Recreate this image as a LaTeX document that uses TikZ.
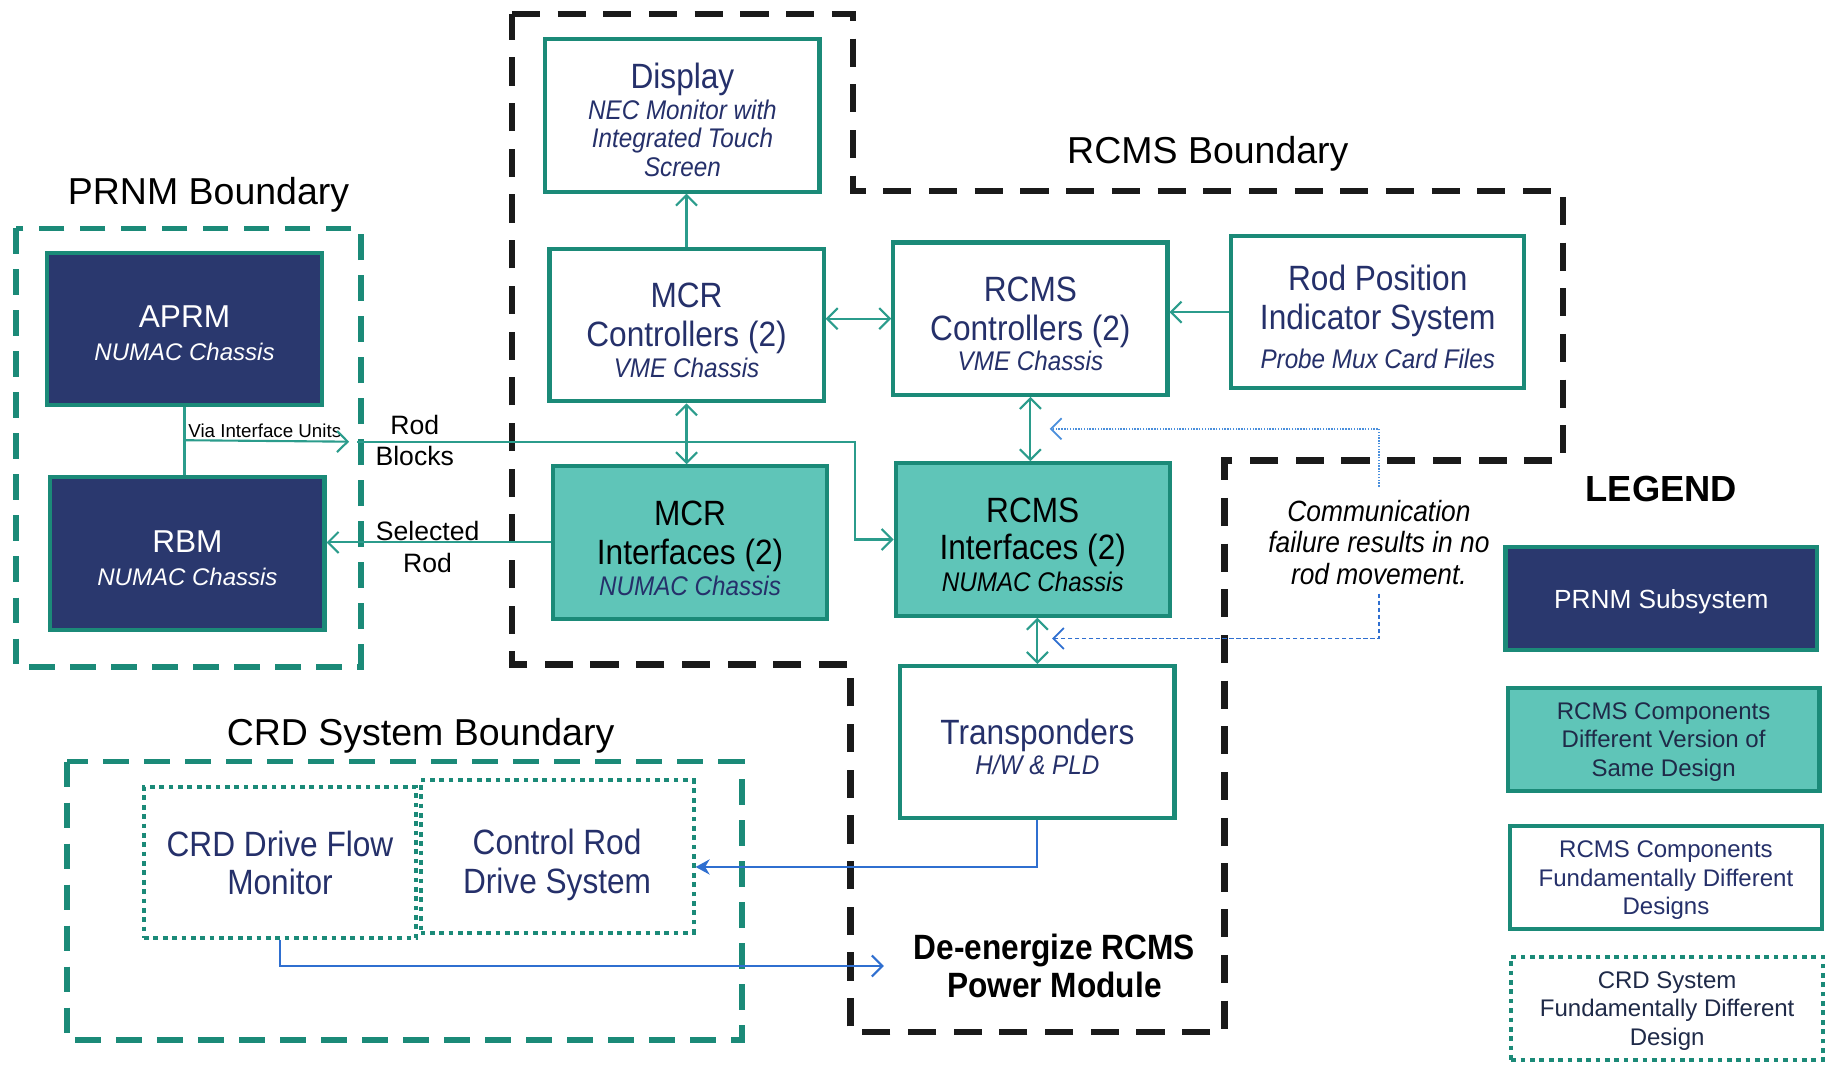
\documentclass[tikz,border=0pt]{standalone}
\usepackage{fontspec}
\setmainfont{Liberation Sans}
\newfontfamily\narrowfont[FakeStretch=0.9]{Liberation Sans}
\usetikzlibrary{arrows.meta,calc}
\definecolor{tealline}{HTML}{1B8A78}
\definecolor{tealfill}{HTML}{5FC5B8}
\definecolor{navyfill}{HTML}{2A386E}
\definecolor{navytext}{HTML}{25306A}
\definecolor{connteal}{HTML}{2B9C8C}
\definecolor{connblue}{HTML}{2F6FD0}
\definecolor{dotblue}{HTML}{4A8FDC}
\definecolor{bndblack}{HTML}{1A1A1A}
\definecolor{legtext}{HTML}{1F2A48}
\newcommand\nfont[2]{\narrowfont\fontsize{#1}{#2}\selectfont}
\newcommand\boxsub{\narrowfont\itshape\fontsize{23}{26}\selectfont}
\newcommand\tstrut[1]{\rule{0pt}{#1pt}}
\begin{document}
\begin{tikzpicture}[x=1pt,y=-1pt,
 >={Straight Barb[length=9pt,width=18pt]},
 boxbase/.style={draw=tealline,line width=3.5pt,align=center,inner sep=2pt},
 whitebox/.style={boxbase,fill=white,text=navytext},
 tealbox/.style={boxbase,fill=tealfill,text=black},
 navybox/.style={boxbase,fill=navyfill,text=white},
 dotbox/.style={draw=tealline,line width=3.5pt,dash pattern=on 4pt off 4pt,align=center,inner sep=2pt,fill=white},
 mainsize/.style={minimum width=234pt,minimum height=130pt},
 legsize/.style={minimum width=266pt,minimum height=88pt},
 conn/.style={draw=connteal,line width=1.8pt},
 blueconn/.style={draw=connblue,line width=1.8pt},
 tealbound/.style={draw=tealline,line width=5pt,dash pattern=on 22pt off 13pt},
 blackbound/.style={draw=bndblack,line width=5.5pt,dash pattern=on 24pt off 15pt},
 titletext/.style={font=\fontsize{32}{36}\selectfont,text=black,inner sep=2pt},
 lbl/.style={font=\fontsize{22.7}{27}\selectfont,align=center,text=black,inner sep=2pt}
]
\fill[white] (0,0) rectangle (1568,910);
\useasboundingbox (0,0) rectangle (1568,910);

% boundaries
\draw[tealbound] (14,195) rectangle (308,569);
\draw[tealbound] (57,650) rectangle (633,888);
\draw[blackbound] (437,12) -- (728,12) -- (728,163) -- (1334,163) -- (1334,393) -- (1045,393) -- (1045,881) -- (726,881) -- (726,567) -- (437,567) -- cycle;

% titles
\node[titletext] (PRNMt) at (178,166) {PRNM Boundary};
\node[titletext] (RCMSt) at (1031,131) {RCMS Boundary};
\node[titletext] (CRDt) at (359,628) {CRD System Boundary};

% boxes
\node[whitebox,mainsize,font=\nfont{30}{24.5}] (Display) at (582.5,98.5)
  {\tstrut{29}Display\\[2pt]{\boxsub NEC Monitor with}\\{\boxsub Integrated Touch}\\{\boxsub Screen}};
\node[whitebox,mainsize,font=\nfont{30}{27}] (MCRC) at (586,277.5)
  {\tstrut{30}MCR\\[6pt]Controllers (2)\\{\boxsub VME Chassis}};
\node[whitebox,mainsize,font=\nfont{30}{26}] (RCMSC) at (879.5,272)
  {\tstrut{30}RCMS\\[7pt]Controllers (2)\\{\boxsub VME Chassis}};
\node[whitebox,mainsize,minimum width=250pt,font=\nfont{30}{33}] (RPIS) at (1176,266.5)
  {\tstrut{30}Rod Position\\Indicator System\\{\boxsub Probe Mux Card Files}};
\node[tealbox,mainsize,font=\nfont{30}{26}] (MCRI) at (589,463)
  {\tstrut{31}MCR\\[7pt]Interfaces (2)\\{\boxsub\color{navytext}NUMAC Chassis}};
\node[tealbox,mainsize,font=\nfont{30}{27}] (RCMSI) at (881.5,460.5)
  {\tstrut{30}RCMS\\[5pt]Interfaces (2)\\{\boxsub NUMAC Chassis}};
\node[whitebox,mainsize,font=\nfont{30}{26}] (Trans) at (885.5,633.5)
  {\tstrut{30}Transponders\\{\boxsub H/W \& PLD}};
\node[navybox,mainsize,font=\fontsize{27}{28}\selectfont] (APRM) at (157.5,281)
  {\tstrut{26}APRM\\{\itshape\fontsize{20.5}{24}\selectfont NUMAC Chassis}};
\node[navybox,mainsize,font=\fontsize{27}{28}\selectfont] (RBM) at (160,472.5)
  {\tstrut{26}RBM\\{\itshape\fontsize{20.5}{24}\selectfont NUMAC Chassis}};
\node[dotbox,minimum width=232pt,minimum height=129pt,text=navytext,font=\nfont{30}{33}] (CRDF) at (239,736.5)
  {CRD Drive Flow\\Monitor};
\node[dotbox,minimum width=233pt,minimum height=130pt,text=navytext,font=\nfont{30}{33}] (CRDS) at (475.5,731)
  {\tstrut{36}Control Rod\\Drive System};
\node[align=center,text=black,font=\nfont{30}{33}\bfseries] (Deen) at (900,824.5)
  {De-energize RCMS\\Power Module};
\node[align=center,text=black,font=\narrowfont\itshape\fontsize{25}{27}\selectfont] (Comm) at (1177,463)
  {Communication\\failure results in no\\rod movement.};

% labels
\node[lbl] (rodblocks) at (354,376) {Rod\\Blocks};
\node[lbl] (selrod) at (365,467) {Selected\\Rod};
\node[anchor=south,inner sep=1pt,text=black,font=\fontsize{16}{18}\selectfont] (vialbl) at (226,375) {Via Interface Units};

% legend
\node[text=black,font=\fontsize{31}{31}\selectfont\bfseries] (legend) at (1418,417) {LEGEND};
\node[navybox,legsize,font=\fontsize{22.4}{26}\selectfont] (L1) at (1418,511) {\tstrut{22}PRNM Subsystem};
\node[tealbox,legsize,text=legtext,font=\fontsize{20.5}{24.5}\selectfont] (L2) at (1420,631)
  {\tstrut{19}RCMS Components\\Different Version of\\Same Design};
\node[whitebox,legsize,font=\fontsize{20.5}{24.5}\selectfont] (L3) at (1422,749)
  {\tstrut{19}RCMS Components\\Fundamentally Different\\Designs};
\node[dotbox,legsize,text=legtext,font=\fontsize{20.5}{24.5}\selectfont] (L4) at (1423,860.5)
  {\tstrut{19}CRD System\\Fundamentally Different\\Design};

% connectors
\draw[conn,->] (MCRC.north) -- (MCRC.north |- Display.south);
\draw[conn,<->] (RCMSC.west -| MCRC.east) -- (RCMSC.west);
\draw[conn,->] (RPIS.west) -- (RPIS.west -| RCMSC.east);
\draw[conn,<->] (MCRC.south) -- (MCRC.south |- MCRI.north);
\draw[conn,<->] (RCMSC.south) -- (RCMSC.south |- RCMSI.north);
\draw[conn,<->] (Trans.north |- RCMSI.south) -- (Trans.north);
\draw[conn] (APRM.south) -- (APRM.south |- RBM.north);
\path (APRM.south) ++(0,28) coordinate (via);
\coordinate (viatip) at (298,377);
\coordinate (rbstart) at (305,377);
\coordinate (rbturn) at (730,377);
\draw[conn,->] (via) -- (viatip);
\draw[conn,->] (rbstart) -- (rbturn) |- (RCMSI.west);
\draw[conn,->] (MCRI.west) -- (MCRI.west -| RBM.east);

\draw[blueconn,-{Stealth[length=12pt,width=13pt]}] (Trans.south) |- ($(CRDS.east)+(0,9)$);
\draw[blueconn,->,shorten >=22pt] (CRDF.south) |- (Deen.west);

\coordinate (dotend) at (896,366);
\coordinate (dashend) at (898,545);
\draw[draw=dotblue,line width=1.5pt,dash pattern=on 1.2pt off 1.2pt,->,shorten <=8pt] (Comm.north) |- (dotend);
\draw[draw=connblue,line width=1.5pt,dash pattern=on 4pt off 2pt,->,shorten <=4pt] (Comm.south) |- (dashend);
\end{tikzpicture}
\end{document}
